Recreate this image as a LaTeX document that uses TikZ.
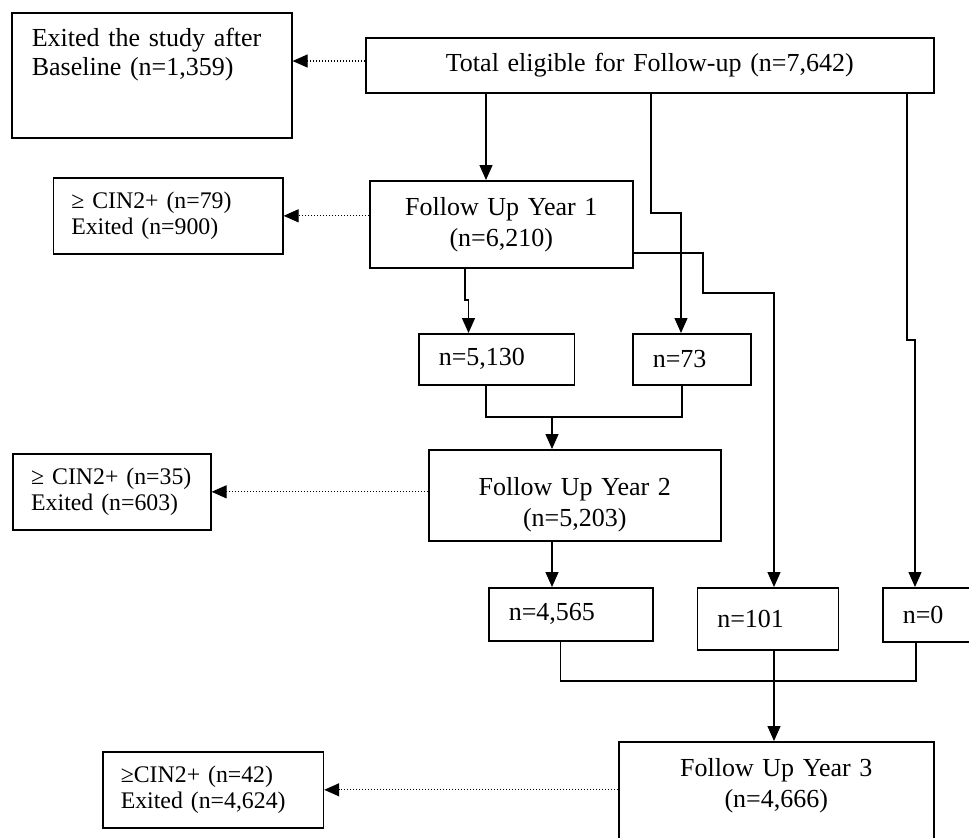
\documentclass[tikz,border=0pt]{standalone}
\usepackage{fontspec}
\setmainfont{Liberation Serif}
\usetikzlibrary{arrows.meta}
\newcommand{\lowpad}[1]{\rule[-#1]{0pt}{0pt}}
\newcommand{\highpad}[1]{\rule{0pt}{#1}}
\begin{document}
\begin{tikzpicture}[x=0.5pt,y=-0.5pt,
				box/.style={draw,line width=0.8pt,anchor=north west,inner xsep=10pt,inner ysep=0pt,align=left,font=\fontsize{13}{14.5}\selectfont},
				yearbox/.style={box,align=center,font=\fontsize{13}{15.5}\selectfont},
				smallbox/.style={box,inner xsep=9pt,font=\fontsize{11.9}{13}\selectfont},
				link/.style={line width=0.65pt},
				arr/.style={link,-{Triangle[length=7.5pt,width=6.5pt]}},
				exit/.style={line width=0.6pt,dash pattern=on 0.6pt off 0.9pt,-{Triangle[length=7.5pt,width=6.5pt]}}]
\useasboundingbox (0,0) rectangle (969,837);
\clip (0,0) rectangle (969,837);
% boxes
\node[box,text width=120pt,minimum height=62.5pt] (base) at (11,12) {Exited the study after\\Baseline (n=1,359)\lowpad{23.5pt}};
\node[yearbox,text width=264pt,minimum height=27.5pt] (total) at (365,37) {Total eligible for Follow-up (n=7,642)};
\node[yearbox,text width=111.5pt,minimum height=43.5pt] (fu1) at (369,180) {Follow Up Year 1\\(n=6,210)};
\node[smallbox,text width=96.75pt,minimum height=38pt] (cin1) at (52.5,177) {≥ CIN2+ (n=79)\\Exited (n=900)};
\node[box,text width=57.75pt,minimum height=25.5pt] (n5130) at (418,333) {n=5,130};
\node[box,text width=39pt,minimum height=25.5pt] (n73) at (632,333) {n=73};
\node[yearbox,text width=126pt,minimum height=45.5pt] (fu2) at (428,449) {\highpad{18.7pt}Follow Up Year 2\\(n=5,203)};
\node[smallbox,text width=80.8pt,minimum height=38pt] (cin2) at (12.4,453) {≥ CIN2+ (n=35)\\Exited (n=603)};
\node[box,text width=62pt,minimum height=26.5pt] (n4565) at (488,587) {n=4,565};
\node[box,text width=50.5pt,minimum height=31pt] (n101) at (696.5,587) {n=101};
\node[box,text width=40pt,minimum height=27pt] (n0) at (882,587) {n=0};
\node[yearbox,text width=137.5pt,minimum height=60pt] (fu3) at (618,741) {Follow Up Year 3\\(n=4,666)\lowpad{19pt}};
\node[smallbox,text width=92.3pt,minimum height=38pt] (cin3) at (102,751) {≥CIN2+ (n=42)\\Exited (n=4,624)};
% bend points
\coordinate (k0) at (365,61);
\coordinate (k1) at (486,417);
\coordinate (k2) at (682,417);
\coordinate (k3) at (552,417);
\coordinate (j1) at (651,213);
\coordinate (j2) at (681,213);
\coordinate (j3) at (907,340);
\coordinate (j4) at (915,340);
\coordinate (j5) at (703,253);
\coordinate (j6) at (703,293);
\coordinate (j7) at (774,293);
\coordinate (j8) at (465,300);
\coordinate (j9) at (468.5,300);
\coordinate (m1) at (560.5,681);
\coordinate (m2) at (916,681);
% exits
\draw[exit] (k0) -- (base.east |- k0);
\draw[exit] (fu1.west |- cin1.east) -- (cin1.east);
\draw[exit] (fu2.west |- cin2.east) -- (cin2.east);
\draw[exit] (fu3.west |- cin3.east) -- (cin3.east);
% flow
\draw[arr] (total.south -| k1) -- (fu1.north -| k1);
\draw[arr] (total.south -| j1) -- (j1) -- (j2) -- (n73.north -| j2);
\draw[arr] (total.south -| j3) -- (j3) -- (j4) -- (n0.north -| j4);
\draw[arr] (fu1.east |- j5) -- (j5) -- (j6) -- (j7) -- (n101.north -| j7);
\draw[arr] (fu1.south -| j8) -- (j8) -- (j9) -- (n5130.north -| j9);
\draw[link] (n5130.south -| k1) -- (k1) -- (k2) -- (n73.south -| k2);
\draw[arr] (k3) -- (fu2.north -| k3);
\draw[arr] (fu2.south -| k3) -- (n4565.north -| k3);
\draw[link] (n4565.south -| m1) -- (m1) -- (m2) -- (n0.south -| m2);
\draw[arr] (n101.south -| j7) -- (fu3.north -| j7);
\end{tikzpicture}
\end{document}
